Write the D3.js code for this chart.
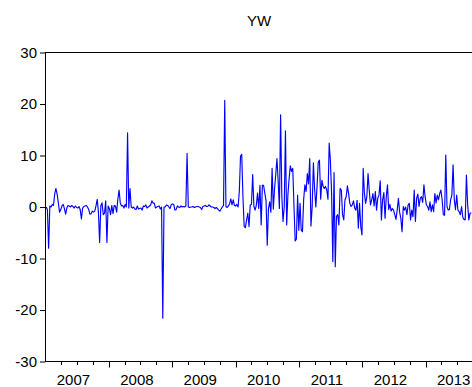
<!DOCTYPE html>
<html>
<head>
<meta charset="utf-8">
<script src="https://cdn.jsdelivr.net/npm/d3@7/dist/d3.min.js"></script>
<style>
  html, body { margin: 0; padding: 0; background: #fff; }
  svg { display: block; }
  text { font-family: "Liberation Sans", Arial, sans-serif; fill: #000; }
</style>
</head>
<body>
<svg id="chart" width="472" height="387"></svg>
<script>
// Weekly observations of YW, one array per calendar year
const values2007 = [0, -0.5, -8, 0.2, 0, 0.5, 0.3, 2.5, 3.6, 2.5,
  0.8, -1.0, -0.5, 0.2, 0.5, -0.3, -1.4, -0.2, 0.3, 0.2,
  0, 0.3, 0.1, -0.2, 0.2, -0.1, -0.2, 0.1, -0.5, -2.3,
  -0.2, 0.1, 0.2, 0.3, 0, -0.5, -1.4, -1.3, -0.8, -1.0,
  -0.8, 0.2, 1.5, -1, -6.9, 0.3, 0.8, -1.5, -1.2, 1.2,
  -6.9, 0.2];
const values2008 = [-0.3, -1.5, 0.3, -1.3, 0.3, 0.2, -1.0, 1.5, 3.3, 0.8,
  0.2, 0.3, -0.2, 0.5, 0, 14.4, -0.2, 3.6, 0, -0.2,
  0, -0.4, -0.5, 0.2, -0.4, -0.3, -0.2, -0.6, 0.2, 0.1,
  0.4, -0.2, 0, 0.2, 0.4, 1.2, 0.8, 0.7, -0.2, 0,
  0.1, 0.2, -0.4, 0, -21.6, 0, 0, 0.4, 0.3, 0,
  -0.3, 0.5];
const values2009 = [0.6, 0.5, -0.6, -0.5, 0.2, 0, -0.1, 0.2, 0, 0.1,
  0, 0.2, 10.4, 0, -0.1, 0, 0, 0.1, -0.1, 0,
  0.1, 0.1, 0, -0.1, -0.5, 0.1, 0.2, 0.3, 0.1, 0.1,
  0.4, 0.2, 0, 0, -0.1, -0.3, -0.1, -0.3, -0.6, -0.8,
  -0.4, 0, 0.3, 20.7, 0.1, -0.1, 0.2, 0.6, 1.6, 0.4,
  1.4, 0.3];
const values2010 = [0.2, 0.5, 0, 3, 9.9, 10.2, 2, -3.8, -4, -2.5,
  -1.2, -3.8, 0.4, 0.5, 6.3, 0.2, -0.6, 0.3, 2.7, -0.3,
  4.2, -3.5, 4.2, 4.2, 2.7, 1.3, -7.4, -0.3, 1, -1,
  7.5, -0.4, 3.5, 6.3, 9.4, 5, -0.3, 17.9, 2.3, -2.8,
  0, 14.8, -3.5, 2.3, 5.5, 8, 6.9, 7.5, 0.4, -6.6,
  -6.2, 2.3];
const values2011 = [-4.5, 0.7, -4.5, -4.8, 1.5, 4.3, 3, 6.5, 4.5, 9.4,
  -3.7, 0.1, 8.6, 3.5, 0, 4, 8.7, 9.1, 1.5, 5.2,
  4, 3.6, 4, 3.3, 1.5, 12.4, 9, 2.6, -10.6, 6.7,
  -11.6, -1.8, -1.5, -3.5, 3.6, 3.3, -1.5, -2.5, 1.4, 2,
  4.1, 2.6, 0.7, 0.1, 0.4, 1.2, -0.2, -0.6, 1.3, -4.1,
  0.7, -3.8];
const values2012 = [-5.4, 7.5, 2.7, 0.7, 2, 6.5, 3.2, 0.4, 1.4, 2.6,
  0.2, 3, -0.6, 1.7, 2.3, 5.1, -2.5, 1.4, 2.8, -2.2,
  2, 4.3, -0.5, 0.5, -0.8, -0.3, -0.6, -1.5, -2.4, -0.6,
  1.7, -1, -2.2, -4.8, 0.1, -0.6, 0, -1.5, 0.4, 0.7,
  -2.5, -0.6, -1.9, 3.3, -2.8, 1.7, 2.5, 0.1, 1.7, 2.0,
  0.9, 4.3];
const values2013 = [2, 0.4, 0.1, -0.6, 1.0, -0.9, 0.4, -0.9, 2.6, 0.8,
  2.3, 1.4, 2.6, 3.3, 1.4, -1.5, -1.6, 10.1, 0.1, -0.6,
  -0.5, 1.4, 2.3, 8.2, 1.4, -0.5, 2.3, -0.6, -0.9, -1.5,
  0.1, -2, -2.4, -2.5, 6.2, 0.5, -2.5, -1.2, -1.1];

const yearLabels = ["2007", "2008", "2009", "2010", "2011", "2012", "2013"];
const yTickValues = [-30, -20, -10, 0, 10, 20, 30];
const title = "YW";
const firstWeek = new Date(2007, 0, 5);
const axisStart = new Date(2007, 0, 1);
const axisEnd = new Date(2013, 8, 27);

const series = [].concat(values2007, values2008, values2009, values2010,
  values2011, values2012, values2013)
  .map((v, i) => ({ date: d3.timeDay.offset(firstWeek, 7 * i), value: v }));

const svg = d3.select("#chart");
const plotLeft = 45.5, plotRight = 472.5, plotTop = 52.5, plotBottom = 361.5;

const x = d3.scaleTime().domain([axisStart, axisEnd]).range([plotLeft, plotRight]);
const y = d3.scaleLinear().domain([-30, 30]).range([plotBottom, plotTop]);

// Title
svg.append("text")
  .attr("x", (plotLeft + plotRight) / 2)
  .attr("y", 26)
  .attr("text-anchor", "middle")
  .style("font-size", "15px")
  .text(title);

// Series line
svg.append("defs").append("clipPath").attr("id", "plot-clip")
  .append("rect").attr("x", plotLeft).attr("y", plotTop)
  .attr("width", plotRight - plotLeft).attr("height", plotBottom - plotTop);

svg.append("path")
  .datum(series)
  .attr("clip-path", "url(#plot-clip)")
  .attr("fill", "none")
  .attr("stroke", "#0000ff")
  .attr("stroke-width", 1.15)
  .attr("stroke-linejoin", "round")
  .attr("d", d3.line().x(d => x(d.date)).y(d => y(d.value)));

// Frame
svg.append("rect")
  .attr("x", plotLeft).attr("y", plotTop)
  .attr("width", plotRight - plotLeft).attr("height", plotBottom - plotTop)
  .attr("fill", "none").attr("stroke", "#000").attr("stroke-width", 1);

// Y axis (plain hyphen for negative numbers)
const yAxis = d3.axisLeft(y).tickValues(yTickValues).tickSize(5.5).tickPadding(3)
  .tickFormat(d => String(d));
const gy = svg.append("g").attr("transform", `translate(${plotLeft},0)`).call(yAxis);
gy.select(".domain").remove();
gy.selectAll("text").style("font-size", "15px").style("font-family", null);

// X axis: yearly major ticks, quarterly minor ticks, labels mid-year
const gx = svg.append("g").attr("transform", `translate(0,${plotBottom})`);
const quarters = d3.timeMonth.every(3).range(axisStart, axisEnd)
  .filter(d => +d !== +axisStart);
gx.selectAll("line.tick")
  .data(quarters)
  .join("line")
  .attr("class", "tick")
  .attr("x1", d => Math.round(x(d)) + 0.5)
  .attr("x2", d => Math.round(x(d)) + 0.5)
  .attr("y1", 0)
  .attr("y2", d => d.getMonth() === 0 ? 6 : 3.5)
  .attr("stroke", "#000");

gx.selectAll("text.year")
  .data(yearLabels)
  .join("text")
  .attr("class", "year")
  .attr("x", d => x(new Date(+d, 6, 1)) - 3.5)
  .attr("y", 23.5)
  .attr("text-anchor", "middle")
  .style("font-size", "15px")
  .text(d => d);
</script>
</body>
</html>
